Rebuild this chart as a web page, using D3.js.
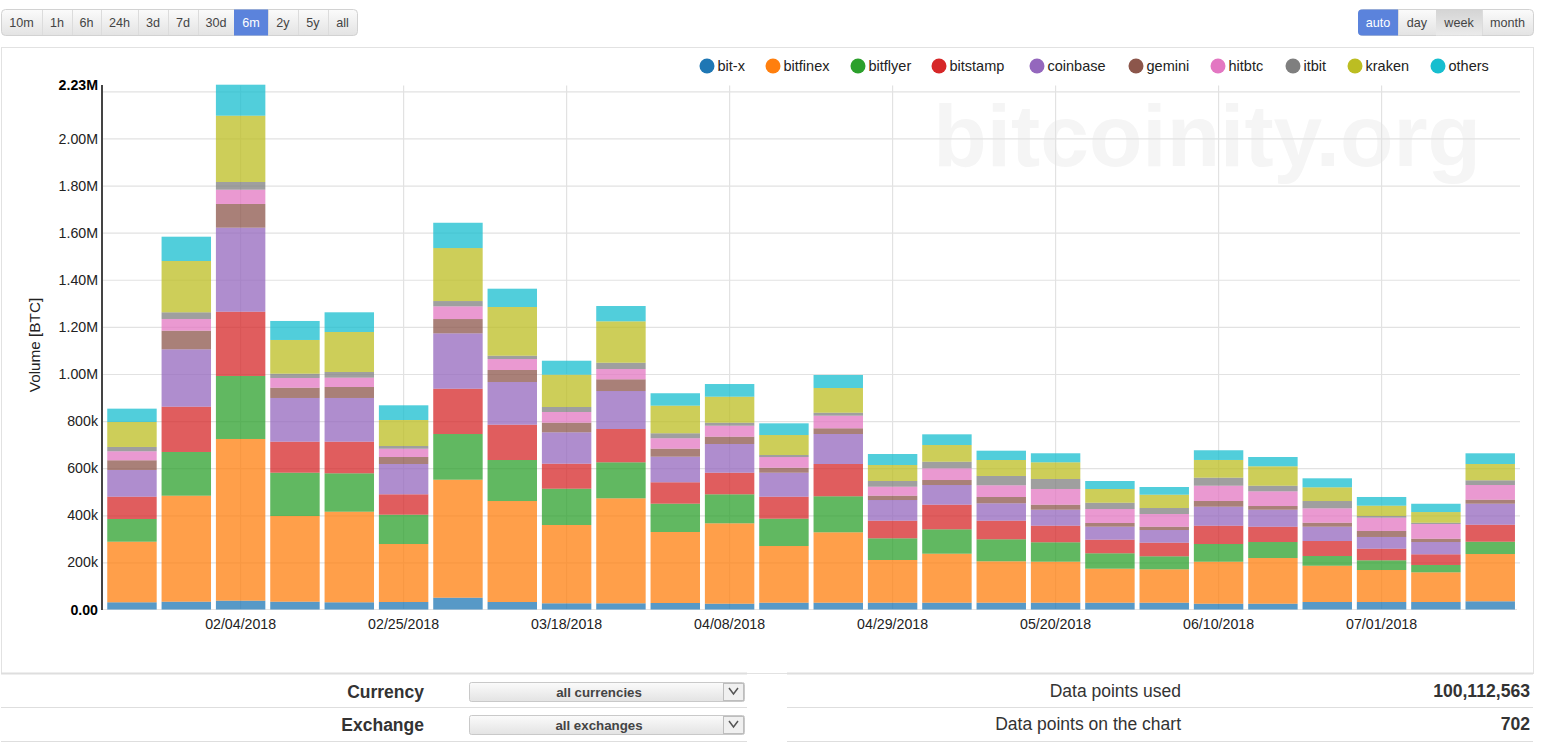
<!DOCTYPE html>
<html>
<head>
<meta charset="utf-8">
<script src="https://cdn.jsdelivr.net/npm/d3@7"></script>
<style>
  html, body { margin: 0; padding: 0; background: #fff; overflow: hidden; }
  svg { display: block; font-family: "Liberation Sans", Arial, sans-serif; }
  .yaxis path, .yaxis line, .xaxis path, .xaxis line { display: none; }
  .grid path { display: none; }
  .grid line { stroke: #e2e2e2; stroke-width: 1.2px; }
</style>
</head>
<body>
<script>
// weekly volume in thousands of BTC
var weeks = ["01/21/2018","01/28/2018","02/04/2018","02/11/2018","02/18/2018","02/25/2018","03/04/2018","03/11/2018","03/18/2018","03/25/2018","04/01/2018","04/08/2018","04/15/2018","04/22/2018","04/29/2018","05/06/2018","05/13/2018","05/20/2018","05/27/2018","06/03/2018","06/10/2018","06/17/2018","06/24/2018","07/01/2018","07/08/2018","07/15/2018"];
var exchanges = ["bit-x","bitfinex","bitflyer","bitstamp","coinbase","gemini","hitbtc","itbit","kraken","others"];

var bitx     = [30.6,33.1,37.4,33.1,30.6,31.8,50.1,31.8,26.3,26.3,27.6,24.6,28.9,28.9,28.9,28.9,28.9,28.9,28.9,28.9,24.6,24.6,31.8,31.8,31.8,34.8];
var bitfinex = [257.3,450.1,686.6,363.9,384.7,246.3,501,428.8,332.5,445.8,301.5,341.4,240.7,298.9,181.3,208,175.8,174.1,144.4,141.8,178.3,194,154.1,135.9,126.1,200.8];
var bitflyer = [96.4,185.6,267.5,183.9,163,124.4,194,174.1,154.1,152.9,120.2,123.1,115.9,152.9,92.1,103.6,93.4,82.4,65.4,55.2,75.2,67.9,41.2,41.2,31,52.2];
var bitstamp = [94.7,192.3,273,131.6,134.2,86.6,192.3,149.9,106.2,141.4,90.9,91.7,93.4,137.1,74.7,104.5,79,70.5,57.7,57.7,77.7,65,63.7,49.3,45.4,72.2];
var coinbase = [113.4,243.7,356.7,185.6,185.6,128.7,235.2,181.3,133.3,161.3,108.7,121.9,101.9,127.4,87.9,83.6,73.9,67.9,55.2,53.9,80.7,72.2,60.7,49.7,52.2,89.2];
var gemini   = [41.2,79,100.6,43.7,46.7,29.7,60.7,51,40.8,49.7,34,31,21.2,24.2,18.3,21.2,26.7,21.2,15.7,14,24.2,15.7,17,25.5,14,17];
var hitbtc   = [38.2,49.7,60.7,41.2,39.5,35.2,53.9,46.7,45.4,43.7,44.2,46.7,45.4,53.5,38.2,49.7,49.7,66.7,59.4,53.9,65,62.4,61.1,56.5,62.4,62.4];
var itbit    = [18.3,28.4,32.7,18.3,24.2,11.5,22.5,14,21.2,26.7,21.2,12.7,8.5,12.7,24.2,28,39.5,42.5,26.7,25.5,34,23.8,31,7.2,5.5,20];
var kraken   = [106.2,217.8,281.5,143.1,169.8,110.4,225,206.8,137.1,175.8,117.2,110.4,84.9,104.9,67.9,70.9,67.9,70.9,58.2,56.5,75.2,82.4,58.2,43.7,45.4,69.2];
var others   = [56.5,103.2,131.6,80.7,83.6,62.4,107.4,77.7,59.4,65,52.7,53.9,49.7,55.2,46.7,45.4,39.5,38.2,34,32.7,41.2,39.5,38.2,36.9,35.2,45.4];

var seriesValues = [bitx, bitfinex, bitflyer, bitstamp, coinbase, gemini, hitbtc, itbit, kraken, others];

var yLabelTicks = [0,200,400,600,800,1000,1200,1400,1600,1800,2000,2227];
var yGridTicks = [200,400,600,800,1000,1200,1400,1600,1800,2000,2200];
var xLabelEvery = 3;

var rangeButtons = ["10m","1h","6h","24h","3d","7d","30d","6m","2y","5y","all"];
var stepButtons = ["auto","day","week","month"];

// page layout
var width = 1559, height = 746;
var rangeEdges = [1,42,72,101,138,168,198,234,268,298,328,357];
var stepEdges = [1358,1398,1436,1482,1533];
var legendX = [707,773,858,939,1037,1136,1218,1293,1355,1438];

var table = weeks.map(function(w, i) {
  var row = { week: w };
  exchanges.forEach(function(e, j) { row[e] = seriesValues[j][i]; });
  return row;
});

var svg = d3.select("body").append("svg")
    .attr("width", width)
    .attr("height", height);

var defs = svg.append("defs");
var btn = defs.append("linearGradient").attr("id", "btn").attr("x2", 0).attr("y2", 1);
btn.append("stop").attr("offset", 0).attr("stop-color", "#fbfbfb");
btn.append("stop").attr("offset", 1).attr("stop-color", "#e3e3e3");
var pressed = defs.append("linearGradient").attr("id", "pressed").attr("x2", 0).attr("y2", 1);
pressed.append("stop").attr("offset", 0).attr("stop-color", "#d4d4d4");
pressed.append("stop").attr("offset", 1).attr("stop-color", "#ebebeb");

// button groups
function buttonGroup(labels, edges, active, down) {
  var g = svg.append("g");
  var x0 = edges[0], x1 = edges[edges.length - 1];
  g.append("rect")
      .attr("x", x0 + 0.5).attr("y", 9.5)
      .attr("width", x1 - x0).attr("height", 26)
      .attr("rx", 4)
      .attr("fill", "url(#btn)")
      .attr("stroke", "#d2d2d2");
  labels.forEach(function(t, i) {
    var a = edges[i], b = edges[i + 1];
    var isActive = t == active;
    if (isActive || t == down) {
      g.append("path")
          .attr("d", function() {
            var first = i == 0;
            var p = d3.path();
            var y0 = 9.5, y1 = 35.5, r = 4;
            p.moveTo(a + (first ? r : 0), y0);
            p.lineTo(b, y0);
            p.lineTo(b, y1);
            p.lineTo(a + (first ? r : 0), y1);
            if (first) { p.arcTo(a, y1, a, y1 - r, r); p.lineTo(a, y0 + r); p.arcTo(a, y0, a + r, y0, r); }
            p.closePath();
            return p.toString();
          })
          .attr("fill", isActive ? "#5b83dc" : "url(#pressed)");
    } else if (i > 0) {
      g.append("line")
          .attr("x1", a + 0.5).attr("x2", a + 0.5)
          .attr("y1", 10).attr("y2", 35)
          .attr("stroke", "#dcdcdc");
    }
    g.append("text")
        .attr("x", (a + b) / 2).attr("y", 27)
        .attr("text-anchor", "middle")
        .attr("font-size", 12.6)
        .attr("fill", isActive ? "#fff" : "#444")
        .text(t);
  });
}
buttonGroup(rangeButtons, rangeEdges, "6m", null);
buttonGroup(stepButtons, stepEdges, "auto", "week");

// chart panel
svg.append("rect")
    .attr("x", 1.5).attr("y", 47.5)
    .attr("width", 1532).attr("height", 626)
    .attr("fill", "#fff")
    .attr("stroke", "#e2e2e2");

// watermark
svg.append("text")
    .attr("x", 1481).attr("y", 166)
    .attr("text-anchor", "end")
    .attr("font-size", 87.5)
    .attr("font-weight", "bold")
    .attr("fill", "#f5f5f5")
    .text("bitcoinity.org");

var x = d3.scaleBand()
    .domain(weeks)
    .range([104.8, 1517.4])
    .paddingInner(0.09)
    .paddingOuter(0.045);

var y = d3.scaleLinear()
    .domain([0, 2227])
    .range([609.5, 85]);

var color = d3.scaleOrdinal()
    .domain(exchanges)
    .range(d3.schemeCategory10);

var xTicks = weeks.filter(function(d, i) { return i % xLabelEvery == 2; });

// grid
svg.append("g")
    .attr("class", "grid")
    .attr("transform", "translate(102,0)")
    .call(d3.axisLeft(y).tickValues(yGridTicks).tickSize(-1418).tickFormat(""));

svg.append("g")
    .attr("class", "grid")
    .attr("transform", "translate(0,609.5)")
    .call(d3.axisBottom(x).tickValues(xTicks).tickSize(-524).tickFormat(""));

svg.append("line")
    .attr("x1", 102).attr("x2", 1517)
    .attr("y1", y(0)).attr("y2", y(0))
    .attr("stroke", "#e4e4e4");

// stacked bars
var stack = d3.stack().keys(exchanges);

svg.append("g").selectAll("g")
    .data(stack(table))
  .enter().append("g")
    .attr("fill", function(d) { return color(d.key); })
    .attr("fill-opacity", 0.75)
  .selectAll("rect")
    .data(function(d) { return d; })
  .enter().append("rect")
    .attr("x", function(d) { return x(d.data.week); })
    .attr("y", function(d) { return y(d[1]); })
    .attr("width", x.bandwidth())
    .attr("height", function(d) { return y(d[0]) - y(d[1]); });

// axes
var yAxis = d3.axisLeft(y)
    .tickValues(yLabelTicks)
    .tickSize(0)
    .tickPadding(4)
    .tickFormat(function(d) {
      if (d == 0) return "0.00";
      if (d < 1000) return d + "k";
      return d3.format(".2f")(d / 1000) + "M";
    });

var yg = svg.append("g")
    .attr("class", "yaxis")
    .attr("transform", "translate(102,0)")
    .call(yAxis);
yg.selectAll("text")
    .attr("font-family", "'Liberation Sans', Arial, sans-serif")
    .attr("font-size", 14.2)
    .attr("font-weight", function(d) { return d == 0 || d == 2227 ? "bold" : "normal"; })
    .style("fill", function(d) { return d == 0 || d == 2227 ? "#000" : "#222"; });

svg.append("line")
    .attr("x1", 102).attr("x2", 102)
    .attr("y1", 85).attr("y2", 610)
    .attr("stroke", "#444")
    .attr("stroke-width", 2);

var xg = svg.append("g")
    .attr("class", "xaxis")
    .attr("transform", "translate(0,609.5)")
    .call(d3.axisBottom(x).tickValues(xTicks).tickSize(0).tickPadding(6));
xg.selectAll("text")
    .attr("font-family", "'Liberation Sans', Arial, sans-serif")
    .attr("font-size", 14.2)
    .attr("dy", "0.95em")
    .style("fill", "#222");

svg.append("text")
    .attr("transform", "translate(40,345) rotate(-90)")
    .attr("text-anchor", "middle")
    .attr("font-size", 15.3)
    .attr("fill", "#222")
    .text("Volume [BTC]");

// legend
var legend = svg.append("g").selectAll("g")
    .data(exchanges)
  .enter().append("g")
    .attr("transform", function(d, i) { return "translate(" + legendX[i] + ",66)"; });
legend.append("circle")
    .attr("r", 7.5)
    .attr("fill", function(d) { return color(d); });
legend.append("text")
    .attr("x", 10.5).attr("y", 5)
    .attr("font-size", 14.5)
    .attr("fill", "#222")
    .text(function(d) { return d; });

// form rows under the chart
function rule(x1, x2, yy, w) {
  svg.append("line")
      .attr("x1", x1).attr("x2", x2)
      .attr("y1", yy + 0.5).attr("y2", yy + 0.5)
      .attr("stroke", "#dedede")
      .attr("stroke-width", w || 1);
}
rule(1, 747, 673, 2); rule(787, 1533, 673, 2);
rule(1, 747, 707); rule(787, 1533, 707);
rule(1, 747, 741); rule(787, 1533, 741);

function dropdown(label, value, yy) {
  svg.append("text")
      .attr("x", 424).attr("y", yy + 6)
      .attr("text-anchor", "end")
      .attr("font-size", 17.5)
      .attr("font-weight", "bold")
      .attr("fill", "#333")
      .text(label);
  svg.append("rect")
      .attr("x", 469.5).attr("y", yy - 9.5)
      .attr("width", 275).attr("height", 19)
      .attr("rx", 2)
      .attr("fill", "url(#btn)")
      .attr("stroke", "#c9c9c9");
  svg.append("rect")
      .attr("x", 723.5).attr("y", yy - 8.5)
      .attr("width", 20).attr("height", 17)
      .attr("fill", "#f0f0f0")
      .attr("stroke", "#bdbdbd");
  svg.append("path")
      .attr("d", "M729," + (yy - 4) + "L733.5," + (yy + 2) + "L738," + (yy - 4))
      .attr("fill", "none")
      .attr("stroke", "#555")
      .attr("stroke-width", 1.5);
  svg.append("text")
      .attr("x", 599).attr("y", yy + 5)
      .attr("text-anchor", "middle")
      .attr("font-size", 13.3)
      .attr("font-weight", "bold")
      .attr("fill", "#444")
      .text(value);
}
dropdown("Currency", "all currencies", 692);
dropdown("Exchange", "all exchanges", 725);

function stat(label, value, yy) {
  svg.append("text")
      .attr("x", 1181).attr("y", yy)
      .attr("text-anchor", "end")
      .attr("font-size", 17.5)
      .attr("fill", "#333")
      .text(label);
  svg.append("text")
      .attr("x", 1530).attr("y", yy)
      .attr("text-anchor", "end")
      .attr("font-size", 17.6)
      .attr("font-weight", "bold")
      .attr("fill", "#333")
      .text(value);
}
stat("Data points used", "100,112,563", 697);
stat("Data points on the chart", "702", 730);
</script>
</body>
</html>
